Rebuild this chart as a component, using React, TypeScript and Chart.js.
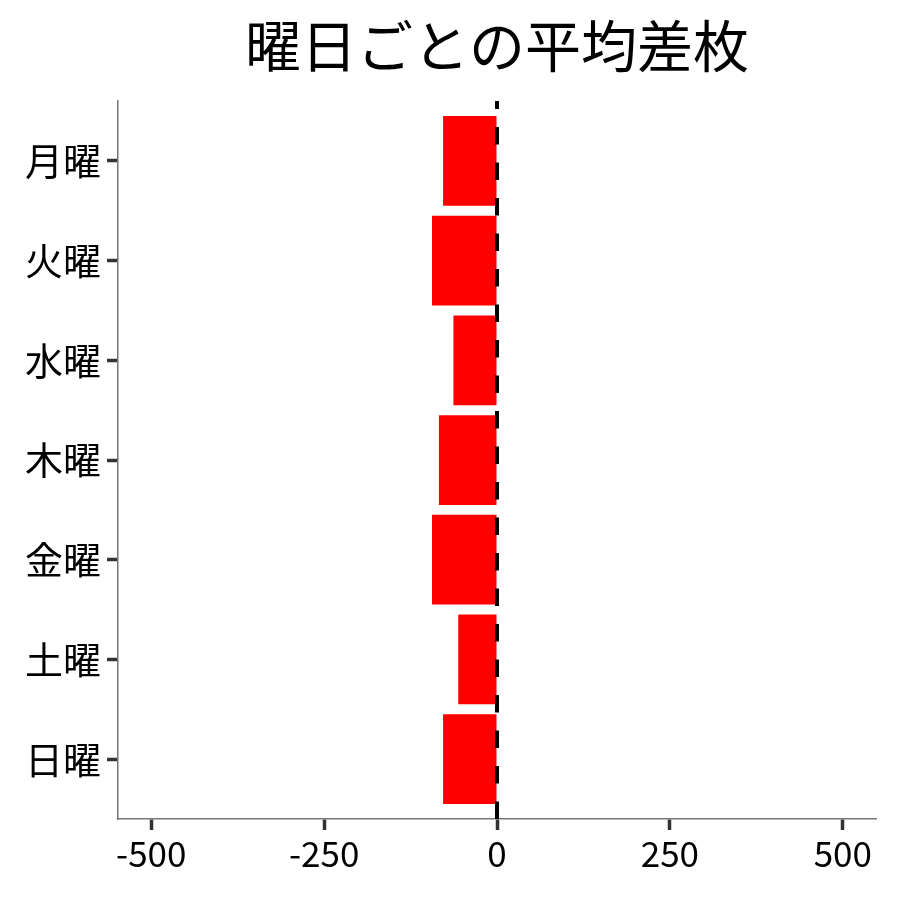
import { useEffect, useRef } from "react"
import { Chart, registerables } from "chart.js"

Chart.register(...registerables)

const days = ["月曜", "火曜", "水曜", "木曜", "金曜", "土曜", "日曜"]
const avgDiff = [-78, -94, -63, -84, -94, -56, -78]
const xTicks = [-500, -250, 0, 250, 500]
const titleText = "曜日ごとの平均差枚"

const FONT = "'Noto Sans CJK JP', 'Noto Sans', sans-serif"

// dashed vertical line at x = 0, drawn bottom-up like the reference
const zeroLine = {
  id: "zeroLine",
  afterDatasetsDraw(chart: any) {
    const { ctx, chartArea, scales } = chart
    const x = scales.x.getPixelForValue(0)
    ctx.save()
    ctx.strokeStyle = "#000"
    ctx.lineWidth = 4
    ctx.setLineDash([17.5, 18])
    ctx.beginPath()
    ctx.moveTo(x, chartArea.bottom)
    ctx.lineTo(x, chartArea.top)
    ctx.stroke()
    ctx.restore()
  },
}

// title centred over the plot panel rather than the whole canvas
const panelTitle = {
  id: "panelTitle",
  afterDraw(chart: any) {
    const { ctx, chartArea } = chart
    ctx.save()
    ctx.fillStyle = "#000"
    ctx.font = `56px ${FONT}`
    ctx.textAlign = "center"
    ctx.textBaseline = "middle"
    ctx.fillText(titleText, (chartArea.left + chartArea.right) / 2, 46)
    ctx.restore()
  },
}

export default function App() {
  const chartRef = useRef<HTMLCanvasElement | null>(null)
  const chartInstance = useRef<Chart | null>(null)

  useEffect(() => {
    document.body.style.margin = "0"
    if (!chartRef.current) return
    const ctx = chartRef.current.getContext("2d")
    if (!ctx) return
    if (chartInstance.current) chartInstance.current.destroy()

    chartInstance.current = new Chart(ctx, {
      type: "bar",
      data: {
        datasets: [
          {
            data: days.map((_, i) => ({ x: avgDiff[i], y: i })),
            backgroundColor: "#ff0000",
            borderWidth: 0,
            categoryPercentage: 1,
            barPercentage: 0.9,
          },
        ],
      },
      options: {
        indexAxis: "y",
        responsive: false,
        animation: false,
        layout: { padding: { left: 0, right: 24, top: 101, bottom: 0 } },
        plugins: {
          legend: { display: false },
          tooltip: { enabled: false },
          title: { display: false },
        },
        scales: {
          x: {
            type: "linear",
            min: -548,
            max: 548,
            afterBuildTicks: (axis: any) => {
              axis.ticks = xTicks.map((v) => ({ value: v }))
            },
            afterFit: (scale: any) => {
              scale.height = 81
            },
            ticks: {
              color: "#000",
              font: { family: FONT, size: 35 },
              padding: 3,
              callback: (v: any) => String(v),
            },
            grid: {
              drawOnChartArea: false,
              tickLength: 11,
              tickWidth: 3.5,
              tickColor: "#333",
            },
            border: { color: "#777", width: 1.5 },
          },
          y: {
            type: "linear",
            min: -0.6,
            max: 6.6,
            reverse: true,
            offset: false,
            afterBuildTicks: (axis: any) => {
              axis.ticks = days.map((_, i) => ({ value: i }))
            },
            afterFit: (scale: any) => {
              scale.width = 118
            },
            ticks: {
              color: "#000",
              font: { family: FONT, size: 38 },
              padding: 6,
              callback: (v: any) => days[v] ?? "",
            },
            grid: {
              offset: false,
              drawOnChartArea: false,
              tickLength: 11,
              tickWidth: 3.5,
              tickColor: "#333",
            },
            border: { color: "#777", width: 1.5 },
          },
        },
      },
      plugins: [zeroLine, panelTitle],
    })

    return () => {
      if (chartInstance.current) {
        chartInstance.current.destroy()
        chartInstance.current = null
      }
    }
  }, [])

  return (
    <div style={{ width: 900, height: 900, background: "#fff" }}>
      <canvas ref={chartRef} width={900} height={900} />
    </div>
  )
}
